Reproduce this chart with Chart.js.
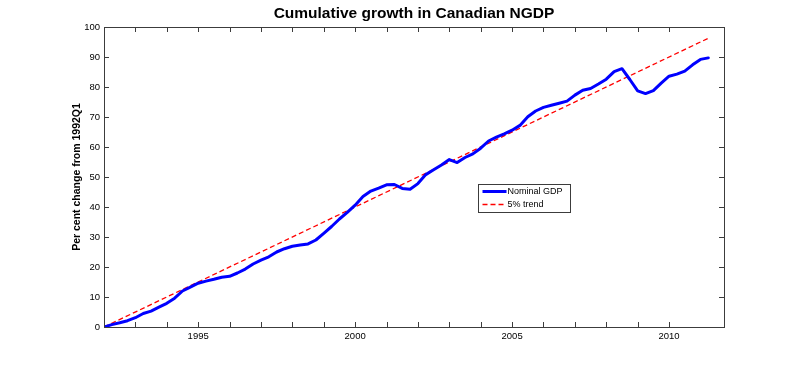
<!DOCTYPE html>
<html lang="en">
<head>
    <meta charset="UTF-8">
    <title>Cumulative growth in Canadian NGDP</title>
    <script src="https://cdn.jsdelivr.net/npm/chart.js@4.4.3/dist/chart.umd.min.js"></script>
    <style>
        body {
            margin: 0;
            background: #fff;
        }
        canvas {
            display: block;
        }
    </style>
</head>
<body>
    <canvas id="gdpChart" width="800" height="368"></canvas>

    <script>
        // quarterly data, 1992Q1 .. 2011Q2
        const quarters = [
            '1992Q1','1992Q2','1992Q3','1992Q4',
            '1993Q1','1993Q2','1993Q3','1993Q4',
            '1994Q1','1994Q2','1994Q3','1994Q4',
            '1995Q1','1995Q2','1995Q3','1995Q4',
            '1996Q1','1996Q2','1996Q3','1996Q4',
            '1997Q1','1997Q2','1997Q3','1997Q4',
            '1998Q1','1998Q2','1998Q3','1998Q4',
            '1999Q1','1999Q2','1999Q3','1999Q4',
            '2000Q1','2000Q2','2000Q3','2000Q4',
            '2001Q1','2001Q2','2001Q3','2001Q4',
            '2002Q1','2002Q2','2002Q3','2002Q4',
            '2003Q1','2003Q2','2003Q3','2003Q4',
            '2004Q1','2004Q2','2004Q3','2004Q4',
            '2005Q1','2005Q2','2005Q3','2005Q4',
            '2006Q1','2006Q2','2006Q3','2006Q4',
            '2007Q1','2007Q2','2007Q3','2007Q4',
            '2008Q1','2008Q2','2008Q3','2008Q4',
            '2009Q1','2009Q2','2009Q3','2009Q4',
            '2010Q1','2010Q2','2010Q3','2010Q4',
            '2011Q1','2011Q2'
        ];
        const nominalGdp = [
            0, 0.8, 1.4, 2.1,
            3.1, 4.5, 5.3, 6.6,
            7.9, 9.6, 12.0, 13.3,
            14.6, 15.3, 15.9, 16.6,
            16.9, 18.0, 19.3, 21.0,
            22.3, 23.4, 25.0, 26.1,
            26.9, 27.3, 27.7, 29.0,
            31.2, 33.5, 36.0, 38.2,
            40.6, 43.5, 45.3, 46.3,
            47.4, 47.5, 46.2, 45.9,
            47.8, 50.8, 52.4, 54.0,
            55.8, 54.8, 56.5, 57.7,
            59.6, 62.0, 63.3, 64.4,
            65.6, 67.2, 70.1, 72.0,
            73.2, 73.9, 74.6, 75.3,
            77.3, 78.9, 79.5, 81.0,
            82.6, 85.1, 86.1, 82.5,
            78.7, 77.8, 78.8, 81.3,
            83.6, 84.3, 85.3, 87.4,
            89.2, 89.7
        ];
        // straight 5% a year trend, start and end points
        const trendQuarters = ['1992Q1', '2011Q2'];
        const trendValues = [0, 96.25];

        const xTickLabels = [1995, 2000, 2005, 2010];
        const yTickValues = [0, 10, 20, 30, 40, 50, 60, 70, 80, 90, 100];

        const FONT = '"Liberation Sans", Arial, Helvetica, sans-serif';

        function quarterToYear(q) {
            return parseInt(q.slice(0, 4)) + (parseInt(q.slice(5)) - 1) / 4;
        }

        function toPoints(qs, vals) {
            return qs.map((q, i) => ({ x: quarterToYear(q), y: vals[i] }));
        }

        // MATLAB-style box, inward ticks, title and legend
        const matlabAxes = {
            id: 'matlabAxes',
            afterDraw(chart) {
                const ctx = chart.ctx;
                const a = chart.chartArea;
                const xs = chart.scales.x;
                const ys = chart.scales.y;
                const tick = 5;

                ctx.save();
                ctx.strokeStyle = '#3c3c3c';
                ctx.lineWidth = 1;
                ctx.beginPath();
                xs.ticks.forEach(t => {
                    if (t.value % 1 !== 0 || t.value <= xs.min || t.value >= xs.max) return;
                    const px = Math.round(xs.getPixelForValue(t.value)) + 0.5;
                    ctx.moveTo(px, a.bottom);
                    ctx.lineTo(px, a.bottom - tick);
                    ctx.moveTo(px, a.top);
                    ctx.lineTo(px, a.top + tick);
                });
                ys.ticks.forEach(t => {
                    const py = Math.round(ys.getPixelForValue(t.value)) + 0.5;
                    ctx.moveTo(a.left, py);
                    ctx.lineTo(a.left + tick, py);
                    ctx.moveTo(a.right, py);
                    ctx.lineTo(a.right - tick, py);
                });
                ctx.stroke();
                ctx.strokeRect(Math.round(a.left) + 0.5, Math.round(a.top) + 0.5,
                    Math.round(a.right - a.left), Math.round(a.bottom - a.top));

                // title
                ctx.fillStyle = '#000';
                ctx.font = 'bold 15.5px ' + FONT;
                ctx.textAlign = 'center';
                ctx.textBaseline = 'middle';
                ctx.fillText('Cumulative growth in Canadian NGDP', (a.left + a.right) / 2, 14);

                // legend
                const lx = 478.5, ly = 184.5, lw = 92, lh = 28;
                ctx.fillStyle = '#fff';
                ctx.fillRect(lx, ly, lw, lh);
                ctx.strokeStyle = '#3c3c3c';
                ctx.strokeRect(lx, ly, lw, lh);
                ctx.font = '9px ' + FONT;
                ctx.textAlign = 'left';
                chart.data.datasets.forEach((ds, i) => {
                    const rowY = ly + 7 + i * 13;
                    ctx.beginPath();
                    ctx.strokeStyle = ds.borderColor;
                    ctx.lineWidth = ds.borderWidth;
                    ctx.setLineDash(ds.borderDash || []);
                    ctx.moveTo(lx + 4, rowY);
                    ctx.lineTo(lx + 28, rowY);
                    ctx.stroke();
                    ctx.setLineDash([]);
                    ctx.fillStyle = '#000';
                    ctx.fillText(ds.label, lx + 29, rowY);
                });
                ctx.restore();
            }
        };

        new Chart(document.getElementById('gdpChart'), {
            type: 'line',
            data: {
                datasets: [{
                    label: 'Nominal GDP',
                    data: toPoints(quarters, nominalGdp),
                    borderColor: '#0000ff',
                    borderWidth: 3,
                    borderJoinStyle: 'round',
                    borderCapStyle: 'round',
                    pointRadius: 0,
                    tension: 0,
                    fill: false
                }, {
                    label: '5% trend',
                    data: toPoints(trendQuarters, trendValues),
                    borderColor: '#ff0000',
                    borderWidth: 1.3,
                    borderDash: [5, 3],
                    pointRadius: 0,
                    tension: 0,
                    fill: false
                }]
            },
            options: {
                responsive: false,
                animation: false,
                layout: { padding: { top: 27, right: 76, bottom: 0, left: 0 } },
                plugins: {
                    legend: { display: false },
                    tooltip: { enabled: false }
                },
                scales: {
                    x: {
                        type: 'linear',
                        min: 1992,
                        max: 2011.75,
                        grid: { display: false, drawTicks: false },
                        border: { display: false },
                        ticks: {
                            stepSize: 1,
                            autoSkip: false,
                            maxRotation: 0,
                            padding: 4,
                            color: '#000',
                            font: { family: FONT, size: 9.5 },
                            callback: v => xTickLabels.includes(v) ? String(v) : ''
                        },
                        afterFit: s => { s.height = 41; }
                    },
                    y: {
                        min: 0,
                        max: 100,
                        grid: { display: false, drawTicks: false },
                        border: { display: false },
                        ticks: {
                            stepSize: 10,
                            padding: 4,
                            color: '#000',
                            font: { family: FONT, size: 9.5 },
                            callback: v => yTickValues.includes(v) ? String(v) : ''
                        },
                        title: {
                            display: true,
                            text: 'Per cent change from 1992Q1',
                            color: '#000',
                            font: { family: FONT, size: 10.5, weight: 'bold' },
                            padding: { top: 71, bottom: 0 }
                        },
                        afterFit: s => { s.width = 104; }
                    }
                }
            },
            plugins: [matlabAxes]
        });
    </script>
</body>
</html>
